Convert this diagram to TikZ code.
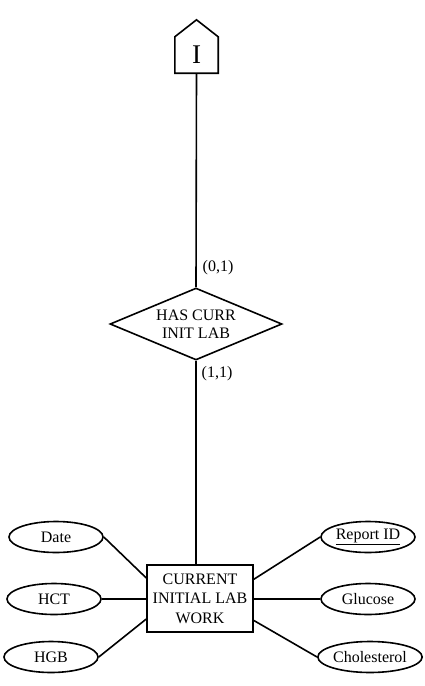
\documentclass[tikz,border=0pt]{standalone}
\usepackage{fontspec}
\setmainfont{Liberation Serif}
\usetikzlibrary{shapes.geometric,calc}
\tikzset{
  conn/.style={line width=1.6pt},
  attr/.style={ellipse,draw,line width=1.6pt,minimum width=94pt,minimum height=31pt,inner sep=0pt,font=\fontsize{16}{18}\selectfont},
  entbox/.style={rectangle,draw,line width=1.6pt,minimum width=106pt,minimum height=67pt,inner sep=1pt,align=center,font=\fontsize{16}{19.5}\selectfont},
  relshape/.style={diamond,draw,line width=1.6pt,inner sep=0pt,aspect=2.39,minimum width=172pt,minimum height=72pt,align=center,font=\fontsize{16}{18}\selectfont},
  card/.style={font=\fontsize{16}{18}\selectfont}
}
\begin{document}
\begin{tikzpicture}[x=1pt,y=-1pt]
\useasboundingbox (0,0) rectangle (425,686);
% superclass pentagon
\node[minimum width=43pt,minimum height=36pt,inner sep=0pt,font=\fontsize{27}{30}\selectfont] (ent) at (196.5,55) {I};
\draw[line width=1.6pt,line join=miter] (ent.south west) -- (ent.north west) -- ($(ent.north)+(0,-17)$) -- (ent.north east) -- (ent.south east) -- cycle;
% relationship
\node[relshape] (rel) at (196,324) {HAS CURR\\INIT LAB};
\node[card] (c01) at (218,268) {(0,1)};
\node[card] (c11) at (217,374) {(1,1)};
% entity
\node[entbox] (box) at (200,598.5) {CURRENT\\INITIAL LAB\\WORK};
% attributes
\node[attr] (date) at (56,537) {Date};
\node[attr] (hct) at (54,599) {HCT};
\node[attr] (hgb) at (51,657) {HGB};
\node[attr] (rid) at (368,537) {\underline{Report ID}};
\node[attr] (glu) at (368,599) {Glucose};
\node[attr] (cho) at (370,657) {Cholesterol};
% connectors
\draw[conn] (ent.south) -- (rel.north);
\draw[conn] (rel.south) -- (rel.south |- box.north);
\draw[conn] (date.east) -- ($(box.north west)!0.2!(box.south west)$);
\draw[conn] (hct.east) -- (hct.east -| box.west);
\draw[conn] (hgb.east) -- ($(box.north west)!0.8!(box.south west)$);
\draw[conn] (rid.west) -- ($(box.north east)!0.22!(box.south east)$);
\draw[conn] (glu.west) -- (glu.west -| box.east);
\draw[conn] (cho.west) -- ($(box.north east)!0.82!(box.south east)$);
\end{tikzpicture}
\end{document}
